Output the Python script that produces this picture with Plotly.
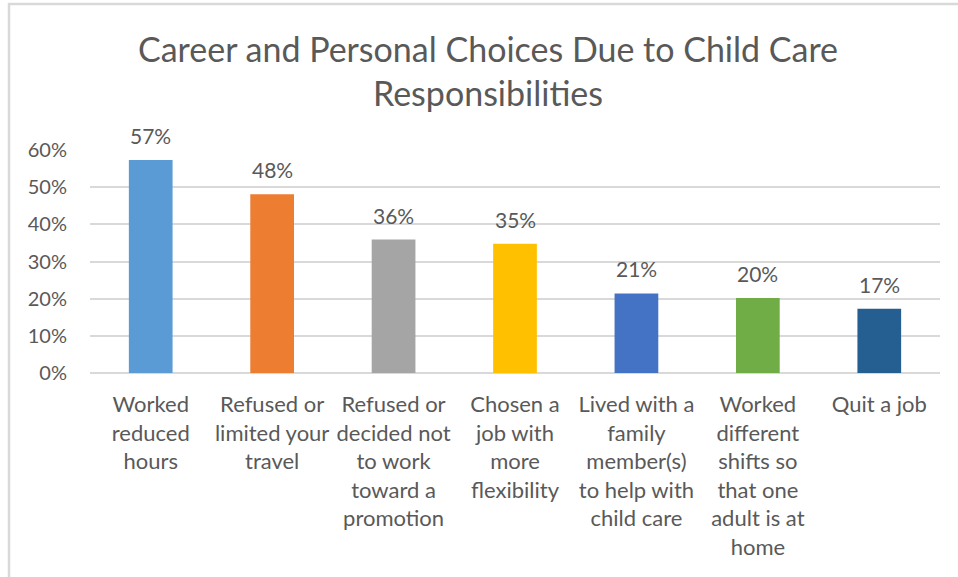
import plotly.graph_objects as go

categories = [
    "Worked<br>reduced<br>hours",
    "Refused or<br>limited your<br>travel",
    "Refused or<br>decided not<br>to work<br>toward a<br>promotion",
    "Chosen a<br>job with<br>more<br>flexibility",
    "Lived with a<br>family<br>member(s)<br>to help with<br>child care",
    "Worked<br>different<br>shifts so<br>that one<br>adult is at<br>home",
    "Quit a job",
]
values = [0.573, 0.481, 0.359, 0.348, 0.214, 0.202, 0.173]
labels = ["57%", "48%", "36%", "35%", "21%", "20%", "17%"]
colors = ["#5b9bd5", "#ed7d31", "#a5a5a5", "#ffc000", "#4472c4", "#70ad47", "#255e91"]
y_ticks = [0, 0.1, 0.2, 0.3, 0.4, 0.5, 0.6]
y_tick_labels = ["0%", "10%", "20%", "30%", "40%", "50%", "60%"]

W, H = 958, 577
L, R, T, B = 90, 18, 150, 204
xs = list(range(len(categories)))

fig = go.Figure(go.Bar(
    x=xs,
    y=values,
    marker=dict(color=colors, line=dict(width=0)),
    width=0.36,
    cliponaxis=False,
    hoverinfo="skip",
))

for xi, v, lab in zip(xs, values, labels):
    fig.add_annotation(
        x=xi, y=v, xref="x", yref="y", text=lab, showarrow=False,
        yanchor="bottom", yshift=10,
        font=dict(family="Lato", size=21, color="#595959"),
    )

fig.update_layout(
    width=W, height=H,
    margin=dict(l=L, r=R, t=T, b=B, pad=0),
    paper_bgcolor="white", plot_bgcolor="white",
    showlegend=False,
    font=dict(family="Lato", color="#595959"),
    title=dict(
        text="Career and Personal Choices Due to Child Care<br>Responsibilities",
        x=488 / W, xref="container", xanchor="center",
        y=1 - 62 / H, yref="container", yanchor="top",
        font=dict(family="Lato", size=34, color="#595959"),
    ),
)

fig.update_xaxes(
    tickmode="array", tickvals=xs, ticktext=categories,
    range=[-0.5, len(categories) - 0.5],
    showgrid=False, showline=False, zeroline=False, ticks="",
    tickfont=dict(family="Lato", size=22, color="#595959"),
    ticklabelstandoff=16,
    tickangle=0,
)
fig.update_yaxes(
    range=[0, 0.6],
    tickmode="array", tickvals=y_ticks, ticktext=y_tick_labels,
    showgrid=True, gridcolor="#d9d9d9", gridwidth=1.5,
    zeroline=True, zerolinecolor="#d9d9d9", zerolinewidth=1.5,
    showline=False, ticks="",
    tickfont=dict(family="Lato", size=20, color="#595959"),
    ticklabelstandoff=22,
)

pw, ph = W - L - R, H - T - B
fig.add_shape(
    type="rect", xref="paper", yref="paper",
    x0=(9 - L) / pw, x1=(W + 10 - L) / pw,
    y0=-(B + 10) / ph, y1=(H - 4 - B) / ph,
    line=dict(color="#d9d9d9", width=2.5), fillcolor="rgba(0,0,0,0)",
    layer="below",
)

fig.write_html("out.html")
